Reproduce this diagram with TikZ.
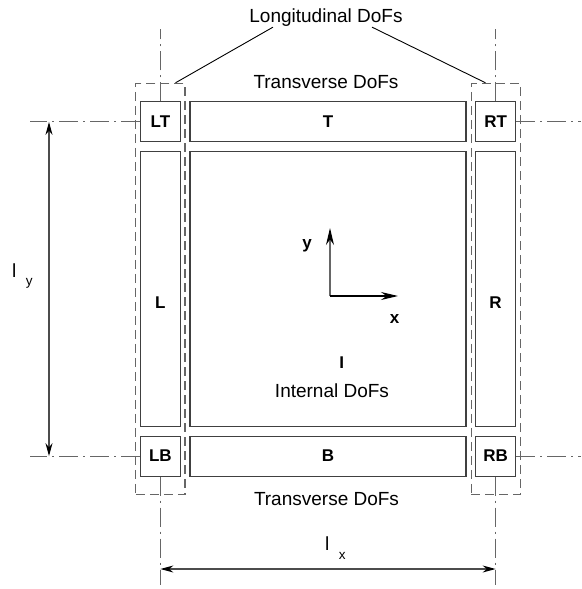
\documentclass[tikz,border=0pt]{standalone}
\usepackage{fontspec}
\setmainfont{Liberation Sans}
\usetikzlibrary{positioning,arrows.meta,fit,calc}

\begin{document}
\begin{tikzpicture}[
    x=1pt, y=-1pt,
    dof/.style={rectangle, draw=black!75, line width=1.1pt, fill=white, inner sep=0pt, font=\fontsize{17}{20}\selectfont\bfseries},
    sidetext/.style={label={[font=\fontsize{17}{20}\selectfont\bfseries, yshift=-14pt]center:#1}},
    grp/.style={rectangle, draw=black!60, line width=1.1pt, dash pattern=on 9pt off 5pt, inner xsep=4pt, inner ysep=18pt},
    cline/.style={draw=black!60, line width=1pt, dash pattern=on 19pt off 5pt on 2pt off 5pt},
    dim/.style={draw=black!70, line width=1.1pt, {Stealth[length=13pt,width=7pt,color=black]}-{Stealth[length=13pt,width=7pt,color=black]}},
    axarrow/.style={line width=1.2pt, -{Stealth[length=17pt,width=8pt,color=black]}},
    lbl/.style={font=\fontsize{19}{22}\selectfont, inner sep=0pt, anchor=base},
    boldlbl/.style={lbl, font=\fontsize{17}{20}\selectfont\bfseries},
    leader/.style={draw=black, line width=0.9pt}
]
\useasboundingbox (0,0) rectangle (581,589);

% Internal block and the strips round it
\node[dof, minimum width=276pt, minimum height=275pt] (I) at (328,289) {};
\node[dof, minimum width=40pt, minimum height=275pt, left=8.5pt of I, sidetext=L] (L) {};
\node[dof, minimum width=40pt, minimum height=275pt, right=8.5pt of I, sidetext=R] (R) {};
\node[dof, minimum width=276pt, minimum height=40pt, above=8.5pt of I] (T) {T};
\node[dof, minimum width=276pt, minimum height=40pt, below=8.5pt of I] (B) {B};

% Corner blocks
\node[dof, minimum size=40pt, above=8.5pt of L] (LT) {LT};
\node[dof, minimum size=40pt, below=8.5pt of L] (LB) {LB};
\node[dof, minimum size=40pt, above=8.5pt of R] (RT) {RT};
\node[dof, minimum size=40pt, below=8.5pt of R] (RB) {RB};

% Longitudinal groups
\node[grp, fit=(LT)(L)(LB)] (leftgrp) {};
\node[grp, fit=(RT)(R)(RB)] (rightgrp) {};

% Texts
\node[lbl] (longi) at (326,22) {Longitudinal DoFs};
\node[lbl] (transtop) at (326,88) {Transverse DoFs};
\node[lbl] (transbot) at (326.5,505) {Transverse DoFs};
\node[boldlbl] (Iname) at (341.7,368) {I};
\node[lbl] (internal) at (332,397) {Internal DoFs};

\draw[leader] ($(longi.south)+(-53,1)$) -- ($(leftgrp.north east)+(-10,0)$);
\draw[leader] ($(longi.south)+(46,1)$) -- ($(rightgrp.north west)+(15,0)$);

% Centre lines
\coordinate (topend) at (0,29);
\coordinate (botend) at (0,585);
\coordinate (leftend) at (30,0);
\coordinate (rightend) at (581,0);
\draw[cline] (LT.north) -- (LT.north |- topend);
\draw[cline] (LB.south) -- (LB.south |- botend);
\draw[cline] (RT.north) -- (RT.north |- topend);
\draw[cline] (RB.south) -- (RB.south |- botend);
\draw[cline] (LT.west) -- (LT.west -| leftend);
\draw[cline] (LB.west) -- (LB.west -| leftend);
\draw[cline] (RT.east) -- (RT.east -| rightend);
\draw[cline] (RB.east) -- (RB.east -| rightend);

% Dimensions
\coordinate (dimx) at (49,0);
\coordinate (dimy) at (0,569);
\draw[dim] (dimx |- LT.west) -- (dimx |- LB.west);
\draw[dim] (dimy -| LB.south) -- (dimy -| RB.south);
\node[lbl, anchor=base west] (ly) at (11.9,277) {l\hspace{9.5pt}\raisebox{-8pt}{\fontsize{13.5}{14}\selectfont y}};
\node[lbl, anchor=base west] (lx) at (324.9,550) {l\hspace{9.5pt}\raisebox{-9pt}{\fontsize{13.5}{14}\selectfont x}};

% Axes
\coordinate (O) at (330,296);
\coordinate (ytip) at (330,228);
\coordinate (xtip) at (398,296);
\draw[axarrow, draw=black!60] (O) -- (ytip);
\draw[axarrow] (O) -- (xtip);
\node[boldlbl] (ylbl) at (307,248) {y};
\node[boldlbl] (xlbl) at (394.5,323) {x};
\end{tikzpicture}
\end{document}
